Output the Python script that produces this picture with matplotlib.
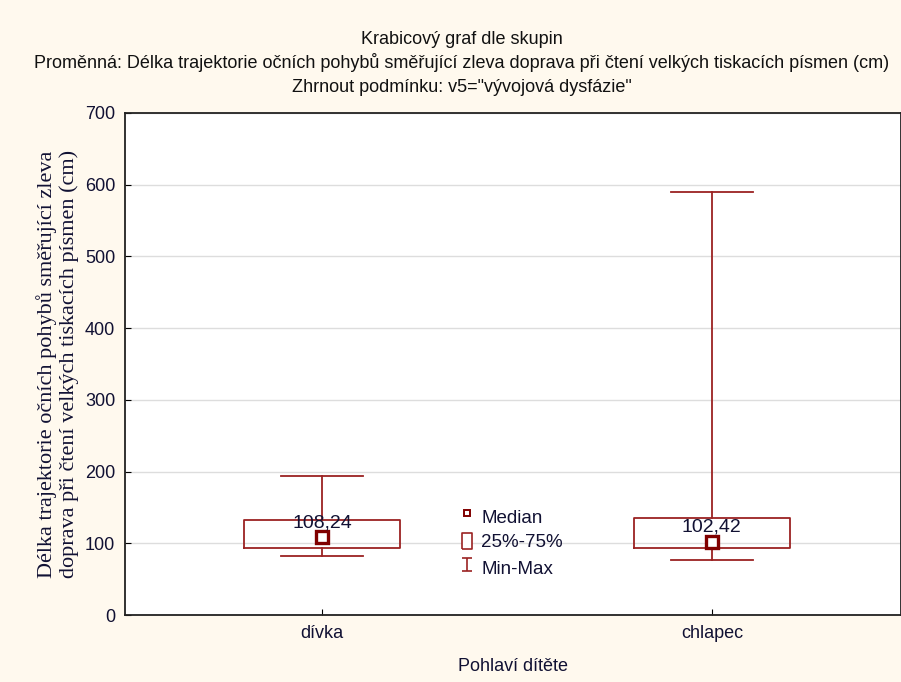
import matplotlib
matplotlib.use("Agg")
import matplotlib.pyplot as plt

# data
groups = ["dívka", "chlapec"]
medians = [108.24, 102.42]
q1 = [93.0, 93.0]
q3 = [133.0, 135.0]
mins = [82.0, 77.0]
maxs = [194.0, 590.0]

title_lines = [
    "Krabicový graf dle skupin",
    "Proměnná: Délka trajektorie očních pohybů směřující zleva doprava při čtení velkých tiskacích písmen (cm)",
    'Zhrnout podmínku: v5="vývojová dysfázie"',
]
ylabel = "Délka trajektorie očních pohybů směřující zleva\ndoprava při čtení velkých tiskacích písmen (cm)"
xlabel = "Pohlaví dítěte"
legend_labels = ["Median", "25%-75%", "Min-Max"]

bg = "#FFF9EE"
red = "#9B2222"
dark = "#800000"
txt = "#111133"

plt.rcParams["font.family"] = ["Liberation Sans", "DejaVu Sans"]

fig = plt.figure(figsize=(9.01, 6.82), dpi=100, facecolor=bg)
ax = fig.add_axes([125 / 901, 1 - 615 / 682, 1 - 125 / 901, (615 - 113) / 682])
ax.set_facecolor("white")

stats = []
for i in range(len(groups)):
    stats.append(dict(med=medians[i], q1=q1[i], q3=q3[i], whislo=mins[i], whishi=maxs[i], fliers=[]))

pos = list(range(len(groups)))
ax.bxp(stats, positions=pos, widths=0.4, capwidths=0.21, showfliers=False,
       boxprops=dict(color=red, linewidth=1.3),
       whiskerprops=dict(color=red, linewidth=1.3),
       capprops=dict(color=red, linewidth=1.3),
       medianprops=dict(linewidth=0))
ax.plot(pos, medians, linestyle="none", marker="s", markersize=8, markerfacecolor="white",
        markeredgecolor=dark, markeredgewidth=2.4, zorder=5)
for x, m in zip(pos, medians):
    ax.annotate(("%.2f" % m).replace(".", ","), (x, m), xytext=(0, 7), textcoords="offset points",
                ha="center", va="baseline", fontsize=14, color=txt, zorder=6)

ax.set_xlim(-0.505, 1.485)
ax.set_ylim(0, 700)
ax.set_yticks(range(0, 701, 100))
ax.set_xticks(pos)
ax.set_xticklabels(groups, fontsize=13, color=txt)
ax.tick_params(axis="y", labelsize=13, direction="in", length=4, pad=7, labelcolor=txt)
ax.tick_params(axis="x", direction="in", length=4, pad=7)
ax.yaxis.grid(True, color="#DDDDDD", linewidth=1)
ax.set_axisbelow(True)
for s in ax.spines.values():
    s.set_linewidth(1.3)
    s.set_color("#222222")

ax.set_xlabel(xlabel, fontsize=13, labelpad=12, color=txt)
ax.set_ylabel(ylabel, fontsize=16, family=["Liberation Serif", "DejaVu Serif"], labelpad=4,
              linespacing=1.15, color=txt)

for yy, line in zip([40, 62, 87], title_lines):
    fig.text(462 / 901, 1 - yy / 682, line, ha="center", va="center", fontsize=13, color="#111111")

# legend drawn by hand
lx = 0.372
tall_box = [(-0.55, -1), (0.55, -1), (0.55, 1), (-0.55, 1), (-0.55, -1)]
ax.plot([lx], [142], marker="s", markersize=4.5, markerfacecolor="white",
        markeredgecolor=dark, markeredgewidth=1.4, clip_on=False)
ax.plot([lx], [103], marker=tall_box, markersize=12, markerfacecolor="white",
        markeredgecolor=red, markeredgewidth=1.2, clip_on=False)
ax.errorbar([lx], [70], yerr=[[9], [9]], color=red, capsize=3.5, linewidth=1.2, capthick=1.2)
for y, t in zip([135, 101, 63], legend_labels):
    ax.text(lx + 0.036, y, t, fontsize=13.5, va="center", ha="left", color=txt)

fig.savefig("out.png", dpi=100, facecolor=bg)
